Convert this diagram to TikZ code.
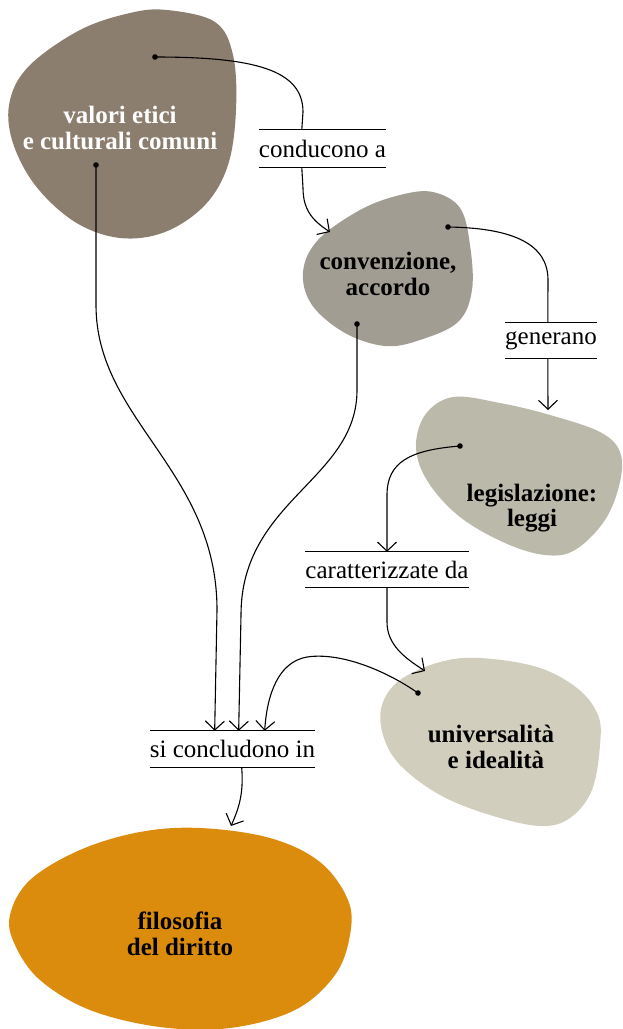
\documentclass[tikz,border=0pt]{standalone}
\usepackage{fontspec}
\setmainfont{Liberation Serif}
\usetikzlibrary{arrows.meta,calc}
\definecolor{blobA}{HTML}{8B7E6E}
\definecolor{blobB}{HTML}{A29D92}
\definecolor{blobC}{HTML}{BBB9A9}
\definecolor{blobD}{HTML}{D1CEBD}
\definecolor{blobE}{HTML}{DB8C0C}
\begin{document}
\begin{tikzpicture}[x=1pt,y=-1pt,
  link/.style={line width=1.1pt},
  conn/.style={line width=1.1pt,-{Straight Barb[length=9pt,width=19pt]}},
  blobtext/.style={font=\bfseries\fontsize{25}{25.5}\selectfont,align=center,text=black,inner sep=0pt},
  relbox/.style={font=\fontsize{25}{28}\selectfont,inner sep=0pt,minimum height=36pt},
  rule/.style={line width=1.1pt}]
\useasboundingbox (0,0) rectangle (623,1029);

% blobs
\fill[blobA] plot[smooth cycle,tension=0.6] coordinates {
  (167,10) (215,22) (233,55) (236,110) (228,165) (205,205) (165,232) (120,238)
  (75,222) (35,185) (12,140) (10,100) (30,65) (80,30) (130,13)};
\fill[blobB] plot[smooth cycle,tension=0.6] coordinates {
  (433,192) (460,208) (470,245) (472,290) (458,322) (420,340) (385,346)
  (345,333) (312,305) (303,272) (318,240) (360,210) (400,195)};
\fill[blobC] plot[smooth cycle,tension=0.6] coordinates {
  (453,397) (500,403) (550,415) (600,432) (620,452) (620,482) (605,520) (575,550)
  (545,555) (505,543) (460,517) (428,482) (416,448) (425,415)};
\fill[blobD] plot[smooth cycle,tension=0.6] coordinates {
  (480,658) (537,667) (577,688) (598,715) (600,745) (592,790) (570,818) (540,826)
  (490,815) (440,795) (400,765) (383,735) (382,705) (400,680) (440,662)};
\fill[blobE] plot[smooth cycle,tension=0.6] coordinates {
  (200,828) (270,838) (320,862) (348,900) (350,935) (335,975) (295,1010) (230,1028)
  (160,1027) (90,1010) (40,980) (15,945) (10,915) (30,880) (80,850) (140,832)};

% blob texts
\node[blobtext,text=white] (nA) at (120,128) {valori etici\\e culturali comuni};
\node[blobtext] (nB) at (388,274) {convenzione,\\accordo};
\node[blobtext] (nC) at (532,508) {legislazione:\\leggi};
\node[blobtext] (nD) at (491,747) {universalità\\\hspace*{10pt}e idealità};
\node[blobtext] (nE) at (180,934) {filosofia\\del diritto};

% relation labels
\node[relbox,minimum width=125pt,minimum height=37pt] (l1) at (322.5,148.5) {conducono a};
\node[relbox,minimum width=92pt,minimum height=35pt] (l2) at (551,340.5) {generano};
\node[relbox,minimum width=162pt,minimum height=35pt] (l3) at (387,569.5) {caratterizzate da};
\node[relbox,minimum width=161pt,minimum height=36pt] (l4) at (232.5,749) {si concludono in};
\foreach \n in {l1,l2,l3,l4}{
  \draw[rule] (\n.north west) -- (\n.north east);
  \draw[rule] (\n.south west) -- (\n.south east);
}

% start dots and arrow tips
\coordinate (dA1) at (155,57);
\coordinate (dA2) at (96,165);
\coordinate (dB1) at (448,227);
\coordinate (dB2) at (357,324);
\coordinate (dC) at (460,446);
\coordinate (dD) at (418,693);
\coordinate (tB) at (330,232);
\coordinate (tC) at (548,410);
\coordinate (tD) at (425,671);
\coordinate (tE) at (231,826);

% attachment points on the labels
\coordinate (l1i) at ($(l1.north west)+(43,0)$);
\coordinate (l1o) at ($(l1.south west)+(43,0)$);
\coordinate (l2i) at ($(l2.north west)+(43,0)$);
\coordinate (l2o) at ($(l2.south west)+(43,0)$);
\coordinate (l3i) at (l3.north);
\coordinate (l3o) at (l3.south);
\coordinate (l4a) at ($(l4.north west)+(65,0)$);
\coordinate (l4b) at ($(l4.north west)+(89,0)$);
\coordinate (l4c) at ($(l4.north west)+(115,0)$);
\coordinate (l4o) at ($(l4.south west)+(92,0)$);

% connectors
\draw[link] (dA1) .. controls (255,57) and (303,70) .. (303,112) -- (l1i);
\draw[conn] (l1o) -- (303,188) .. controls (303,212) and (315,222) .. (tB);
\draw[link] (dB1) .. controls (515,228) and (548,245) .. (548,280) -- (l2i);
\draw[conn] (l2o) -- (tC);
\draw[conn] (dC) .. controls (410,450) and (387,462) .. (387,495) -- (l3i);
\draw[conn] (l3o) -- (387,622) .. controls (387,645) and (405,658) .. (tD);
\draw[conn] (dD) .. controls (385,670) and (340,652) .. (307,657)
  .. controls (278,662) and (267,695) .. (l4c);
\draw[conn] (dA2) -- (96,305) .. controls (96,420) and (217,470) .. (217,610) -- (l4a);
\draw[conn] (dB2) -- (357,390) .. controls (357,480) and (241,500) .. (241,615) -- (l4b);
\draw[conn] (l4o) .. controls (244,795) and (238,810) .. (tE);

\foreach \d in {dA1,dA2,dB1,dB2,dC,dD}{\fill (\d) circle (2.8pt);}
\end{tikzpicture}
\end{document}
